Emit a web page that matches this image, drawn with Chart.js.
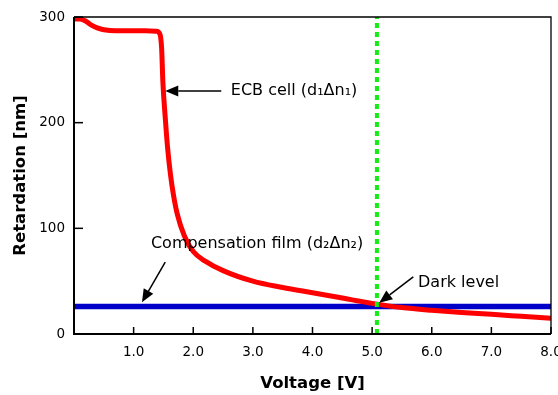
<!DOCTYPE html>
<html>
<head>
<meta charset="utf-8">
<script src="https://cdn.jsdelivr.net/npm/chart.js@4"></script>
<style>
html, body { margin: 0; padding: 0; background: #fff; }
#wrap { width: 558px; height: 395px; }
</style>
</head>
<body>
<div id="wrap"><canvas id="chart"></canvas></div>
<script>
// ECB cell retardation vs voltage
var ecbVoltage = [0, 0.1, 0.2, 0.3, 0.4, 0.5, 0.7, 1.0, 1.2, 1.38, 1.44, 1.47, 1.49, 1.53, 1.57, 1.62, 1.67, 1.73, 1.85, 2.0, 2.2, 2.5, 3.0, 3.5, 4.0, 4.5, 5.0, 5.5, 6.0, 6.5, 7.0, 7.5, 8.0];
var ecbRetardation = [298, 298, 296, 292, 289.5, 288, 287, 287, 287, 286.5, 284, 270, 239, 205, 176, 150, 131, 114, 93, 78, 69, 60, 50, 44, 39, 34, 29, 25, 22.4, 20.3, 18.6, 16.7, 14.8];

// compensation film (constant)
var filmVoltage = [0, 8];
var filmRetardation = [26, 26];

// dark level voltage
var darkVoltage = [5.08, 5.08];
var darkRetardation = [0, 300];

var xTickValues = [0, 1, 2, 3, 4, 5, 6, 7, 8];
var yTickValues = [0, 100, 200, 300];

var notes = [
    { text: "ECB cell (d\u2081\u0394n\u2081)", at: [2.63, 230], from: [2.47, 230], to: [1.53, 230] },
    { text: "Compensation film (d\u2082\u0394n\u2082)", at: [1.29, 85.5], from: [1.53, 68], to: [1.14, 30] },
    { text: "Dark level", at: [5.77, 48.8], from: [5.69, 54], to: [5.12, 29.5] }
];

function toPoints(xs, ys) {
    var pts = [];
    for (var i = 0; i < xs.length; i++) {
        pts.push({ x: xs[i], y: ys[i] });
    }
    return pts;
}

var FONT = "'DejaVu Sans', Verdana, sans-serif";

function arrow(ctx, x1, y1, x2, y2) {
    var ang = Math.atan2(y2 - y1, x2 - x1);
    var len = 13, half = 5.5;
    var bx = x2 - len * Math.cos(ang), by = y2 - len * Math.sin(ang);
    ctx.beginPath();
    ctx.moveTo(x1, y1);
    ctx.lineTo(bx, by);
    ctx.stroke();
    ctx.beginPath();
    ctx.moveTo(x2, y2);
    ctx.lineTo(bx + half * Math.sin(ang), by - half * Math.cos(ang));
    ctx.lineTo(bx - half * Math.sin(ang), by + half * Math.cos(ang));
    ctx.closePath();
    ctx.fill();
}

var decorations = {
    id: "decorations",
    afterDatasetsDraw: function (chart) {
        var ctx = chart.ctx;
        var xs = chart.scales.x, ys = chart.scales.y;
        var area = chart.chartArea;
        ctx.save();
        ctx.strokeStyle = "#000";
        ctx.fillStyle = "#000";

        // inward tick marks
        ctx.lineWidth = 1.5;
        xTickValues.forEach(function (v) {
            var px = xs.getPixelForValue(v);
            ctx.beginPath();
            ctx.moveTo(px, area.bottom);
            ctx.lineTo(px, area.bottom - 7);
            ctx.stroke();
        });
        yTickValues.forEach(function (v) {
            var py = ys.getPixelForValue(v);
            ctx.beginPath();
            ctx.moveTo(area.left, py);
            ctx.lineTo(area.left + 9, py);
            ctx.stroke();
        });

        // frame
        ctx.lineWidth = 1.3;
        ctx.beginPath();
        ctx.moveTo(area.left, area.top);
        ctx.lineTo(area.right, area.top);
        ctx.lineTo(area.right, area.bottom);
        ctx.stroke();
        ctx.lineWidth = 2;
        ctx.beginPath();
        ctx.moveTo(area.left, area.top);
        ctx.lineTo(area.left, area.bottom);
        ctx.lineTo(area.right, area.bottom);
        ctx.stroke();

        // annotations
        ctx.lineWidth = 1.5;
        ctx.font = "16px " + FONT;
        ctx.textBaseline = "middle";
        ctx.textAlign = "left";
        notes.forEach(function (n) {
            arrow(ctx,
                xs.getPixelForValue(n.from[0]), ys.getPixelForValue(n.from[1]),
                xs.getPixelForValue(n.to[0]), ys.getPixelForValue(n.to[1]));
            ctx.fillText(n.text, xs.getPixelForValue(n.at[0]), ys.getPixelForValue(n.at[1]));
        });
        ctx.restore();
    }
};

new Chart(document.getElementById("chart"), {
    type: "line",
    data: {
        datasets: [
            {
                label: "Dark level",
                data: toPoints(darkVoltage, darkRetardation),
                borderColor: "#11ee11",
                borderWidth: 4,
                borderDash: [5, 4],
                pointRadius: 0
            },
            {
                label: "ECB cell",
                data: toPoints(ecbVoltage, ecbRetardation),
                borderColor: "#ff0000",
                borderWidth: 5,
                pointRadius: 0,
                cubicInterpolationMode: "monotone"
            },
            {
                label: "Compensation film",
                data: toPoints(filmVoltage, filmRetardation),
                borderColor: "#0000c8",
                borderWidth: 5.5,
                pointRadius: 0
            }
        ]
    },
    options: {
        responsive: true,
        maintainAspectRatio: false,
        animation: false,
        layout: { padding: { top: 17, right: 7, bottom: 0, left: 0 } },
        plugins: {
            legend: { display: false },
            tooltip: { enabled: false }
        },
        scales: {
            x: {
                type: "linear",
                min: 0,
                max: 8,
                grid: { display: false, drawTicks: false },
                border: { display: false },
                afterBuildTicks: function (scale) {
                    scale.ticks = xTickValues.map(function (v) { return { value: v }; });
                },
                afterFit: function (scale) {
                    scale.height = 61;
                    scale.paddingLeft = 0;
                    scale.paddingRight = 0;
                },
                ticks: {
                    padding: 10,
                    color: "#000",
                    maxRotation: 0,
                    font: { family: FONT, size: 13.5 },
                    callback: function (v) { return v === 0 ? "" : v.toFixed(1); }
                },
                title: {
                    display: true,
                    text: "Voltage [V]",
                    color: "#000",
                    padding: { top: 0, bottom: 1 },
                    font: { family: FONT, size: 16.5, weight: "bold" }
                }
            },
            y: {
                min: 0,
                max: 300,
                grid: { display: false, drawTicks: false },
                border: { display: false },
                afterBuildTicks: function (scale) {
                    scale.ticks = yTickValues.map(function (v) { return { value: v }; });
                },
                afterFit: function (scale) {
                    scale.width = 74;
                    scale.paddingTop = 0;
                    scale.paddingBottom = 0;
                },
                ticks: {
                    padding: 9,
                    color: "#000",
                    font: { family: FONT, size: 13.5 }
                },
                title: {
                    display: true,
                    text: "Retardation [nm]",
                    color: "#000",
                    padding: { top: 11, bottom: 0 },
                    font: { family: FONT, size: 16.5, weight: "bold" }
                }
            }
        }
    },
    plugins: [decorations]
});
</script>
</body>
</html>
